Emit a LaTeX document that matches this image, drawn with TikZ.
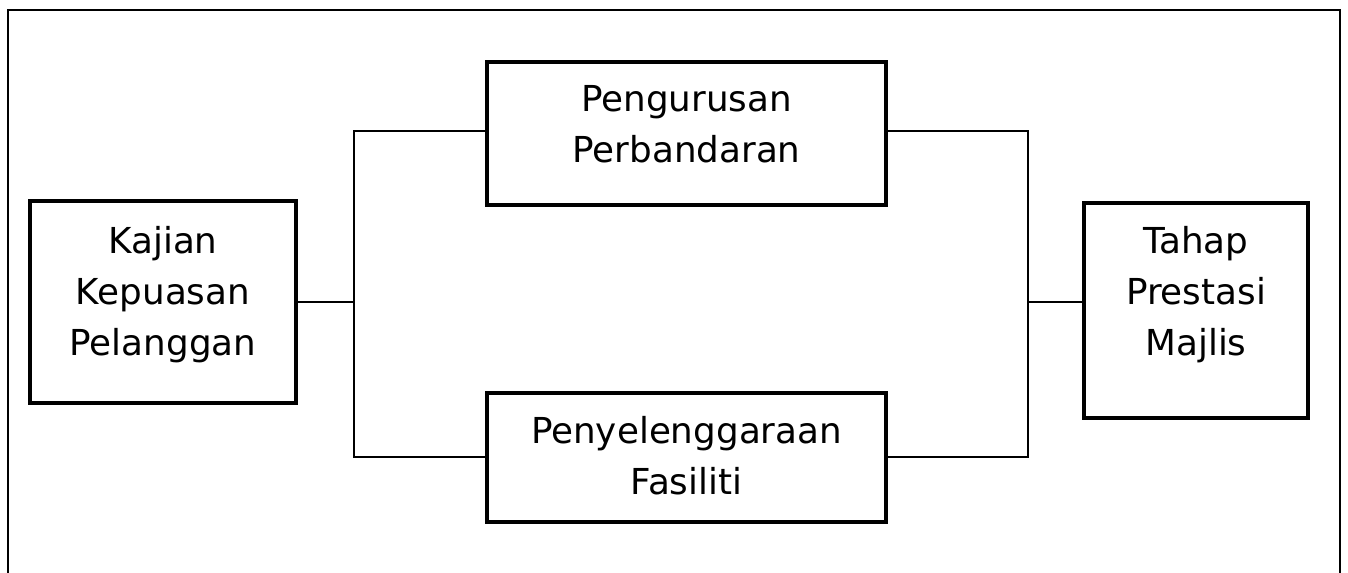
\documentclass[tikz,border=0pt]{standalone}
\usepackage{fontspec}
\setmainfont{DejaVu Sans}
\usetikzlibrary{positioning}

\begin{document}
\begin{tikzpicture}[
        x=0.75pt, y=-0.75pt,
        box/.style={draw=black, line width=2.6pt, rectangle, inner sep=0pt},
        boxtext/.style={align=center, inner sep=0pt,
            font=\fontsize{26.8pt}{38.25pt}\selectfont},
        link/.style={draw=black, line width=1.2pt},
        frame/.style={draw=black, line width=1.7pt}]

        % FRAME
        \useasboundingbox (0,0) rectangle (1348,573);
        \draw[frame] (8,573) -- (8,10) -- (1340,10) -- (1340,573);

        % NODES
        % left box
        \node[box, minimum width=199.5pt, minimum height=151.5pt] (kajian) at (163,302) {};
        \node[boxtext] (kajiantext) at (163,295) {Kajian\\Kepuasan\\Pelanggan};
        % upper box
        \node[box, minimum width=299.25pt, minimum height=107.25pt] (pengurusan) at (686.5,133.5) {};
        \node[boxtext] (pengurusantext) at (686.5,124) {Pengurusan\\Perbandaran};
        % lower box
        \node[box, minimum width=299.25pt, minimum height=96.75pt] (penyelenggaraan) at (686.5,457.5) {};
        \node[boxtext] (penyelenggaraantext) at (686.5,455.5) {Penyelenggaraan\\Fasiliti};
        % right box
        \node[box, minimum width=168pt, minimum height=161.25pt] (tahap) at (1196,310.5) {};
        \node[boxtext] (tahaptext) at (1196,295) {Tahap\\Prestasi\\Majlis};

        % junctions
        \coordinate (lsplit) at (354,302);
        \coordinate (ltop) at (354,131);
        \coordinate (lbot) at (354,457);
        \coordinate (rjoin) at (1028,302);
        \coordinate (rtop) at (1028,131);
        \coordinate (rbot) at (1028,457);

        % LINES
        \draw[link] (kajian.east) -- (lsplit);
        \draw[link] (ltop -| pengurusan.west) -- (ltop) -- (lbot) -- (lbot -| penyelenggaraan.west);
        \draw[link] (rtop -| pengurusan.east) -- (rtop) -- (rbot) -- (rbot -| penyelenggaraan.east);
        \draw[link] (rjoin) -- (rjoin -| tahap.west);
\end{tikzpicture}
\end{document}
